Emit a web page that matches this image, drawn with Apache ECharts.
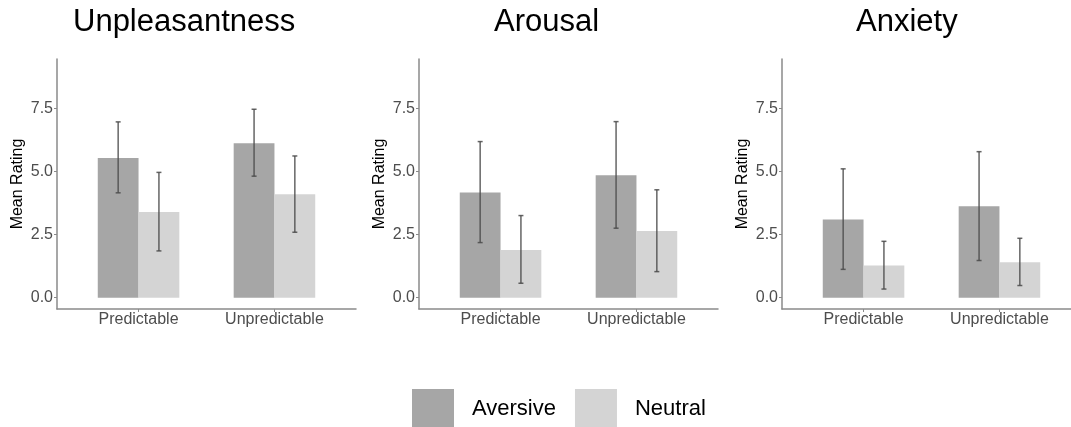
<!DOCTYPE html>
<html>
<head>
<meta charset="utf-8">
<script src="https://cdn.jsdelivr.net/npm/echarts@6/dist/echarts.min.js"></script>
<style>html,body{margin:0;padding:0;background:#fff;}#c{width:1071px;height:427px;}</style>
</head>
<body>
<div id="c"></div>
<script>
const categories = ['Predictable', 'Unpredictable'];
const panels = ['Unpleasantness', 'Arousal', 'Anxiety'];
const groups = ['Aversive', 'Neutral'];
const yTicks = [0, 2.5, 5, 7.5];

// mean ratings [Predictable, Unpredictable]
const unpleasAversive = [5.53, 6.11];
const unpleasAversiveLo = [4.15, 4.81];
const unpleasAversiveHi = [6.96, 7.46];
const unpleasNeutral = [3.39, 4.09];
const unpleasNeutralLo = [1.85, 2.59];
const unpleasNeutralHi = [4.96, 5.61];

const arousalAversive = [4.16, 4.85];
const arousalAversiveLo = [2.18, 2.75];
const arousalAversiveHi = [6.18, 6.97];
const arousalNeutral = [1.89, 2.64];
const arousalNeutralLo = [0.57, 1.03];
const arousalNeutralHi = [3.25, 4.27];

const anxietyAversive = [3.09, 3.62];
const anxietyAversiveLo = [1.12, 1.47];
const anxietyAversiveHi = [5.10, 5.78];
const anxietyNeutral = [1.27, 1.40];
const anxietyNeutralLo = [0.34, 0.48];
const anxietyNeutralHi = [2.23, 2.35];

const panelData = [
  [[unpleasAversive, unpleasAversiveLo, unpleasAversiveHi], [unpleasNeutral, unpleasNeutralLo, unpleasNeutralHi]],
  [[arousalAversive, arousalAversiveLo, arousalAversiveHi], [arousalNeutral, arousalNeutralLo, arousalNeutralHi]],
  [[anxietyAversive, anxietyAversiveLo, anxietyAversiveHi], [anxietyNeutral, anxietyNeutralLo, anxietyNeutralHi]]
];

const colors = ['#a6a6a6', '#d4d4d4'];
const FONT = 'Liberation Sans, Arial, sans-serif';
const axisColor = '#8a8a8a';
const CHART_W = 1071;
const gridLefts = [57, 419, 782];
const FULL_W = 299;           // pixel width of a full panel axis (0.4 .. 2.6)
const XMIN = 0.4, XMAX = 2.6;
const titleLefts = [73, 494, 856];
const BARW = 0.3;

const chart = echarts.init(document.getElementById('c'));

const grids = [], xAxes = [], yAxes = [], series = [], titles = [];
panels.forEach((name, p) => {
  // last panel is cut by the right edge of the picture
  const w = Math.min(FULL_W, CHART_W - gridLefts[p]);
  const xmax = XMIN + (XMAX - XMIN) * w / FULL_W;
  titles.push({text: name, left: titleLefts[p], top: 7, padding: 0,
    textStyle: {fontFamily: FONT, fontSize: 31, fontWeight: 'normal', color: '#000'}});
  grids.push({left: gridLefts[p], top: 59, width: w, height: 250});
  xAxes.push({
    type: 'value', gridIndex: p, min: XMIN, max: xmax,
    axisLine: {show: true, onZero: false, lineStyle: {color: axisColor, width: 1.5}},
    axisTick: {show: true, customValues: [1, 2], length: 3, lineStyle: {color: axisColor, width: 1}},
    axisLabel: {customValues: [1, 2], formatter: v => categories[Math.round(v) - 1],
      color: '#4d4d4d', fontSize: 16, fontFamily: FONT, margin: 3},
    splitLine: {show: false}
  });
  yAxes.push({
    type: 'value', gridIndex: p, min: -0.45, max: 9.45,
    name: 'Mean Rating', nameLocation: 'middle', nameGap: 31,
    nameTextStyle: {color: '#000', fontSize: 16, fontFamily: FONT},
    axisLine: {show: true, onZero: false, lineStyle: {color: axisColor, width: 1.5}},
    axisTick: {show: true, customValues: yTicks, length: 3, lineStyle: {color: axisColor, width: 1}},
    axisLabel: {customValues: yTicks, formatter: v => v.toFixed(1),
      color: '#4d4d4d', fontSize: 16, fontFamily: FONT, margin: 4},
    splitLine: {show: false}
  });
  groups.forEach((g, gi) => {
    const [vals, lo, hi] = panelData[p][gi];
    const off = gi === 0 ? -BARW : 0;
    series.push({
      type: 'custom', name: g, xAxisIndex: p, yAxisIndex: p,
      itemStyle: {color: colors[gi]},
      encode: {x: 0, y: 1},
      data: vals.map((v, i) => [i + 1, v]),
      renderItem: (params, api) => {
        const x = api.value(0), v = api.value(1);
        const a = api.coord([x + off, v]);
        const b = api.coord([x + off + BARW, 0]);
        return {type: 'rect', shape: {x: a[0], y: a[1], width: b[0] - a[0], height: b[1] - a[1]},
          style: {fill: colors[gi]}};
      },
      z: 2
    });
    series.push({
      type: 'custom', xAxisIndex: p, yAxisIndex: p,
      encode: {x: 0, y: [1, 2]},
      data: vals.map((v, i) => [i + 1, lo[i], hi[i]]),
      renderItem: (params, api) => {
        const x = api.value(0) + off + BARW / 2;
        const l = api.coord([x, api.value(1)]);
        const h = api.coord([x, api.value(2)]);
        const cw = 2.5;
        const st = {stroke: '#4a4a4a', lineWidth: 1.5, opacity: 0.85};
        return {type: 'group', children: [
          {type: 'line', shape: {x1: l[0], y1: l[1], x2: h[0], y2: h[1]}, style: st},
          {type: 'line', shape: {x1: l[0] - cw, y1: l[1], x2: l[0] + cw, y2: l[1]}, style: st},
          {type: 'line', shape: {x1: h[0] - cw, y1: h[1], x2: h[0] + cw, y2: h[1]}, style: st}
        ]};
      },
      z: 3
    });
  });
});

chart.setOption({
  animation: false,
  backgroundColor: '#fff',
  title: titles,
  legend: {
    left: 412, top: 389, orient: 'horizontal', padding: 0,
    itemWidth: 42, itemHeight: 40, itemGap: 19, icon: 'rect',
    textStyle: {fontSize: 22, color: '#000', fontFamily: FONT, padding: [0, 0, 0, 13]},
    data: groups.map((g, gi) => ({name: g, icon: 'rect', itemStyle: {color: colors[gi]}}))
  },
  grid: grids,
  xAxis: xAxes,
  yAxis: yAxes,
  series: series
});
</script>
</body>
</html>
